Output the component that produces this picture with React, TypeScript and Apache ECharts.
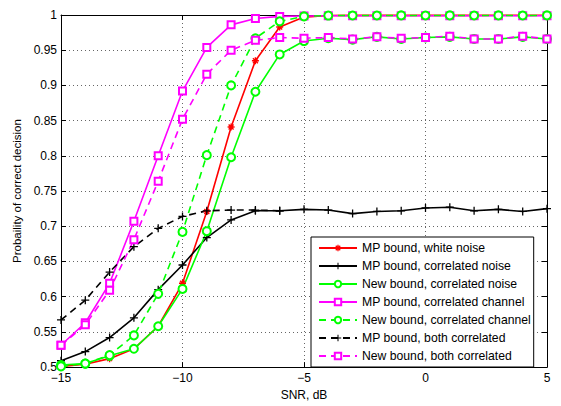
import React, { useEffect, useRef } from "react";
import * as echarts from "echarts";

const snr = [-15, -14, -13, -12, -11, -10, -9, -8, -7, -6, -5, -4, -3, -2, -1, 0, 1, 2, 3, 4, 5];

const mpWhiteNoise = [0.501, 0.504, 0.512, 0.526, 0.558, 0.619, 0.721, 0.841, 0.935, 0.983, 0.997, 0.9993, 0.9995, 0.9995, 0.9996, 0.9995, 0.9996, 0.9995, 0.9996, 0.9995, 0.9996];
const mpCorrNoise = [0.509, 0.522, 0.542, 0.570, 0.610, 0.645, 0.684, 0.709, 0.722, 0.722, 0.724, 0.723, 0.718, 0.721, 0.722, 0.726, 0.727, 0.722, 0.724, 0.721, 0.725];
const newCorrNoise = [0.503, 0.505, 0.516, 0.526, 0.558, 0.611, 0.693, 0.798, 0.891, 0.944, 0.963, 0.967, 0.965, 0.969, 0.966, 0.968, 0.969, 0.966, 0.966, 0.969, 0.966];
const mpCorrChannel = [0.531, 0.563, 0.619, 0.707, 0.800, 0.892, 0.954, 0.986, 0.995, 0.998, 0.9985, 0.999, 0.999, 0.999, 0.999, 0.999, 0.999, 0.999, 0.999, 0.999, 0.999];
const newCorrChannel = [0.501, 0.505, 0.517, 0.545, 0.604, 0.692, 0.801, 0.900, 0.967, 0.991, 0.998, 0.9992, 0.9993, 0.9993, 0.9994, 0.9993, 0.9994, 0.9993, 0.9994, 0.9993, 0.9994];
const mpBothCorr = [0.567, 0.595, 0.635, 0.671, 0.697, 0.714, 0.722, 0.723, 0.723, 0.722, null, null, null, null, null, null, null, null, null, null, null];
const newBothCorr = [0.531, 0.560, 0.609, 0.681, 0.764, 0.852, 0.916, 0.950, 0.964, 0.968, 0.967, 0.968, 0.966, 0.969, 0.967, 0.968, 0.970, 0.966, 0.966, 0.970, 0.966];

const seriesNames = [
  "MP bound, white noise",
  "MP bound, correlated noise",
  "New bound, correlated noise",
  "MP bound, correlated channel",
  "New bound, correlated channel",
  "MP bound, both correlated",
  "New bound, both correlated",
];

const ASTERISK =
  "path://M-1,-5 L1,-5 L1,5 L-1,5 Z M-5,-1 L5,-1 L5,1 L-5,1 Z M-4.24,-2.83 L-2.83,-4.24 L4.24,2.83 L2.83,4.24 Z M2.83,-4.24 L4.24,-2.83 L-2.83,4.24 L-4.24,2.83 Z";
const PLUS = "path://M-0.8,-5 L0.8,-5 L0.8,-0.8 L5,-0.8 L5,0.8 L0.8,0.8 L0.8,5 L-0.8,5 L-0.8,0.8 L-5,0.8 L-5,-0.8 L-0.8,-0.8 Z";

const FONT = "'Liberation Sans', Arial, Helvetica, sans-serif";

function pairs(vals: (number | null)[]) {
  return snr.map((x, i) => [x, vals[i]]);
}

export default function App() {
  const ref = useRef<HTMLDivElement>(null);
  useEffect(() => {
    if (!ref.current) return;
    document.body.style.margin = "0";
    const chart = echarts.init(ref.current, undefined, { renderer: "svg" });
    const lw = 1.6;
    const mk = (
      name: string,
      vals: (number | null)[],
      color: string,
      dashed: boolean,
      symbol: string,
      size: number,
      filled: boolean
    ) => ({
      name,
      type: "line",
      data: pairs(vals),
      clip: false,
      connectNulls: false,
      symbol,
      symbolSize: size,
      showAllSymbol: true,
      lineStyle: { color, width: lw, type: dashed ? [7, 5] : "solid" },
      itemStyle: filled
        ? { color, borderColor: color, borderWidth: 0 }
        : { color, borderColor: color, borderWidth: 1.5 },
      emphasis: { disabled: true },
    });

    const option: any = {
      animation: false,
      textStyle: { fontFamily: FONT },
      grid: { left: 61, right: 14, top: 15, bottom: 34 },
      legend: {
        orient: "vertical",
        left: 311,
        top: 237,
        backgroundColor: "#fff",
        borderColor: "#000",
        borderWidth: 1,
        borderRadius: 0,
        padding: [4, 3, 4, 7],
        itemWidth: 38,
        itemHeight: 8,
        itemGap: 4,
        textStyle: { fontFamily: FONT, fontSize: 12.2, color: "#000", lineHeight: 14 },
        data: seriesNames,
      },
      xAxis: [
        {
          type: "value",
          min: -15,
          max: 5,
          interval: 5,
          name: "SNR, dB",
          nameLocation: "middle",
          nameGap: 19,
          nameTextStyle: { fontFamily: FONT, fontSize: 12, color: "#000" },
          axisLine: { show: true, onZero: false, lineStyle: { color: "#000", width: 1 } },
          axisTick: { show: true, inside: true, length: 5, lineStyle: { color: "#000" } },
          axisLabel: {
            fontFamily: FONT,
            fontSize: 12,
            color: "#000",
            margin: 5,
            formatter: (v: number) => String(v).replace("-", "\u2212"),
          },
          splitLine: { show: true, lineStyle: { color: "#666", type: [1, 3], width: 1 } },
        },
        {
          type: "value",
          position: "top",
          min: -15,
          max: 5,
          interval: 5,
          axisLine: { show: true, onZero: false, lineStyle: { color: "#000", width: 1 } },
          axisTick: { show: true, inside: true, length: 5, lineStyle: { color: "#000" } },
          axisLabel: { show: false },
          splitLine: { show: false },
        },
      ],
      yAxis: [
        {
          type: "value",
          min: 0.5,
          max: 1,
          interval: 0.05,
          name: "Probaility of correct decision",
          nameLocation: "middle",
          nameGap: 37,
          nameTextStyle: { fontFamily: FONT, fontSize: 11.5, color: "#000" },
          axisLine: { show: true, onZero: false, lineStyle: { color: "#000", width: 1 } },
          axisTick: { show: true, inside: true, length: 5, lineStyle: { color: "#000" } },
          axisLabel: {
            fontFamily: FONT,
            fontSize: 12,
            color: "#000",
            margin: 4,
            formatter: (v: number) => String(Math.round(v * 100) / 100),
          },
          splitLine: { show: true, lineStyle: { color: "#666", type: [1, 3], width: 1 } },
        },
        {
          type: "value",
          position: "right",
          min: 0.5,
          max: 1,
          interval: 0.05,
          axisLine: { show: true, onZero: false, lineStyle: { color: "#000", width: 1 } },
          axisTick: { show: true, inside: true, length: 5, lineStyle: { color: "#000" } },
          axisLabel: { show: false },
          splitLine: { show: false },
        },
      ],
      series: [
        mk(seriesNames[0], mpWhiteNoise, "#ff0000", false, ASTERISK, 7, true),
        mk(seriesNames[1], mpCorrNoise, "#000000", false, PLUS, 8, true),
        mk(seriesNames[2], newCorrNoise, "#00ff00", false, "emptyCircle", 8, false),
        mk(seriesNames[3], mpCorrChannel, "#ff00ff", false, "emptyRect", 7, false),
        mk(seriesNames[4], newCorrChannel, "#00ff00", true, "emptyCircle", 8, false),
        mk(seriesNames[5], mpBothCorr, "#000000", true, PLUS, 8, true),
        mk(seriesNames[6], newBothCorr, "#ff00ff", true, "emptyRect", 7, false),
      ],
    };
    chart.setOption(option);
    return () => chart.dispose();
  }, []);
  return <div ref={ref} style={{ width: 561, height: 406 }} />;
}
